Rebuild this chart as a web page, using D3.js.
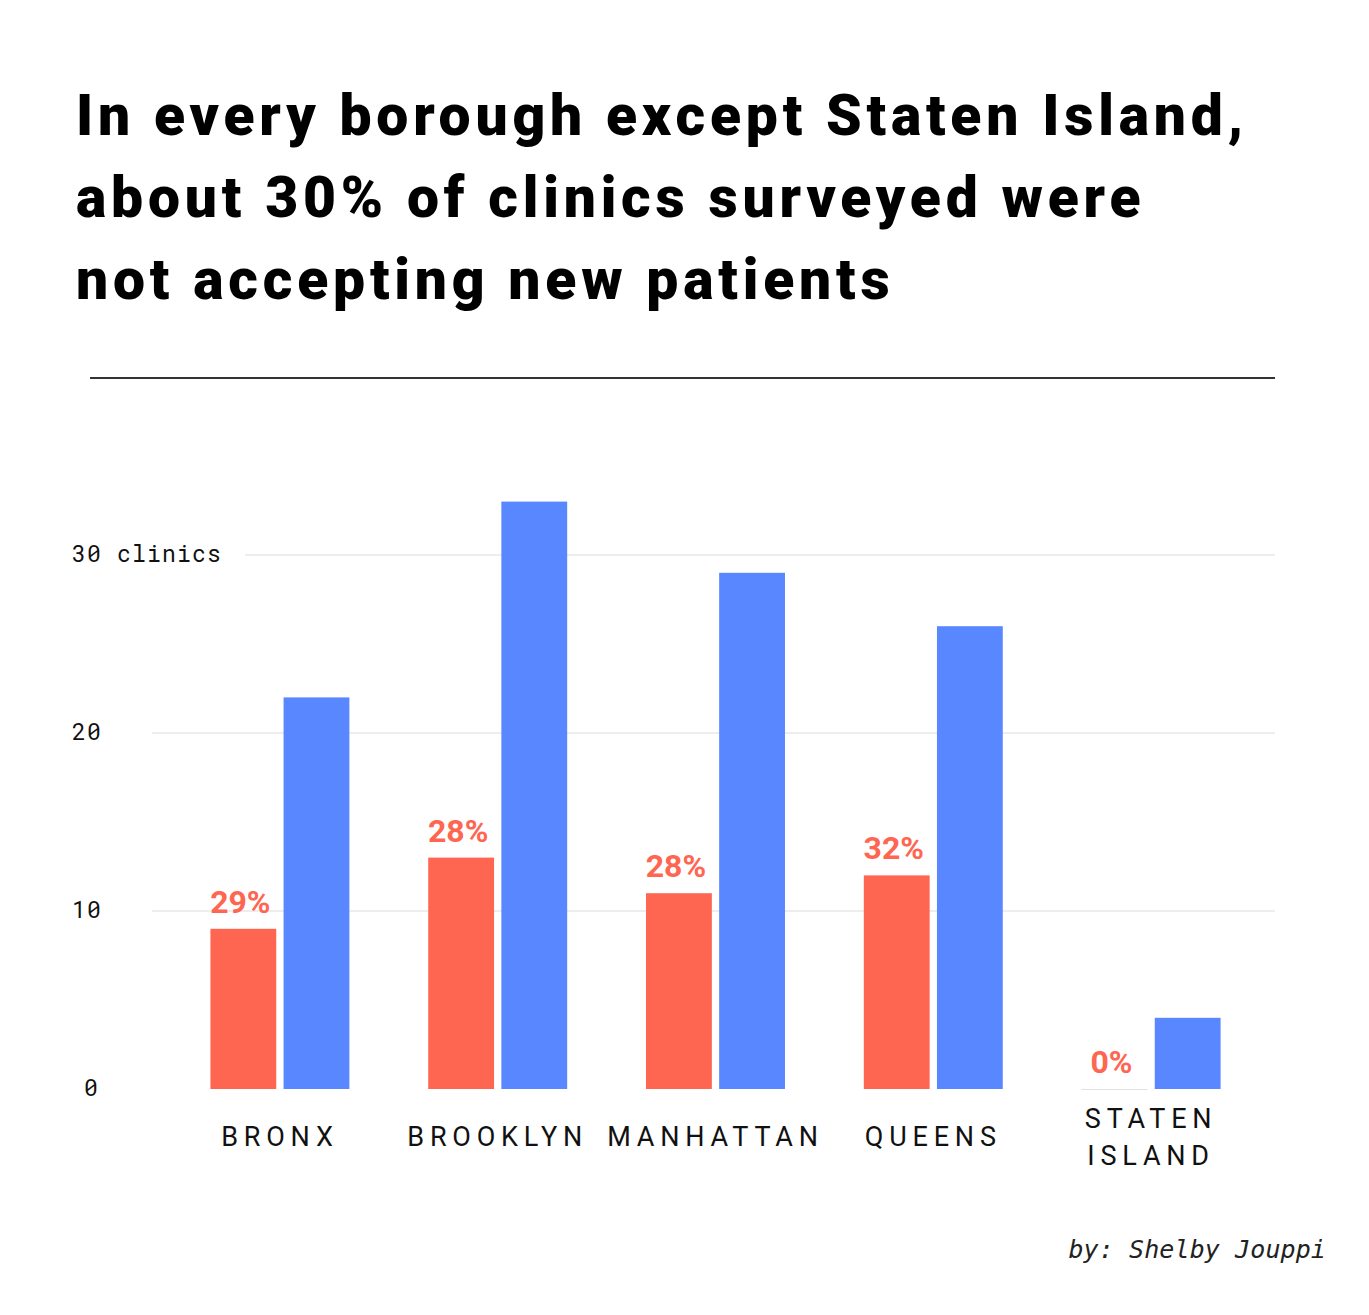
<!DOCTYPE html>
<html>
<head>
<meta charset="utf-8">
<script src="https://cdn.jsdelivr.net/npm/d3@7"></script>
<style>
  body { margin: 0; background: #fff; }
  .title { font-family: Roboto, sans-serif; font-weight: 900; font-size: 57px; letter-spacing: 4.8px; fill: #000; }
  .tick-label { font-family: "Roboto Mono", "DejaVu Sans Mono", monospace; font-size: 23px; fill: #111; letter-spacing: 1.2px; }
  .cat-label { font-family: Roboto, sans-serif; font-size: 27px; letter-spacing: 5.8px; fill: #111; }
  .pct-label { font-family: Roboto, sans-serif; font-weight: bold; font-size: 32px; fill: #ff6651; }
  .credit { font-family: "DejaVu Sans Mono", monospace; font-style: italic; font-size: 25px; letter-spacing: 0.1px; fill: #222; }
</style>
</head>
<body>
<div id="chart"></div>
<script>
// Data
var boroughs = ['BRONX', 'BROOKLYN', 'MANHATTAN', 'QUEENS', 'STATEN ISLAND'];
var notAccepting = [9, 13, 11, 12, 0];
var surveyed = [22, 33, 29, 26, 4];
var pctLabels = ['29%', '28%', '28%', '32%', '0%'];
var yTicks = [0, 10, 20, 30];
var titleLines = [
  'In every borough except Staten Island,',
  'about 30% of clinics surveyed were',
  'not accepting new patients'
];

const width = 1369, height = 1315;
const red = '#ff6651', blue = '#5887ff';

var svg = d3.select('#chart')
  .append('svg')
  .attr('width', width)
  .attr('height', height);

// Title
svg.selectAll('.title')
  .data(titleLines)
  .enter()
  .append('text')
  .attr('class', 'title')
  .attr('x', 76)
  .attr('y', (d, i) => 135 + i * 82)
  .text(d => d);

// Rule under title
svg.append('line')
  .attr('x1', 90).attr('x2', 1275)
  .attr('y1', 378).attr('y2', 378)
  .attr('stroke', '#333')
  .attr('stroke-width', 2);

// Scales
var yScale = d3.scaleLinear()
  .domain([0, 30])
  .range([1089, 555]);

var xScale = d3.scaleBand()
  .domain(boroughs)
  .range([171, 1260])
  .paddingInner(0.362)
  .paddingOuter(0.181);

var xSeries = d3.scaleBand()
  .domain(['not', 'all'])
  .range([0, xScale.bandwidth()])
  .paddingInner(0.1);

// Gridlines
svg.selectAll('.grid')
  .data(yTicks.filter(d => d > 0))
  .enter()
  .append('line')
  .attr('class', 'grid')
  .attr('x1', d => d === 30 ? 245 : 152)
  .attr('x2', 1275)
  .attr('y1', d => yScale(d))
  .attr('y2', d => yScale(d))
  .attr('stroke', '#dcdcdc')
  .attr('stroke-width', 1);

// Tick labels
svg.selectAll('.tick-label')
  .data(yTicks)
  .enter()
  .append('text')
  .attr('class', 'tick-label')
  .attr('x', d => d === 0 ? 84 : 72)
  .attr('y', d => yScale(d) + 7)
  .text(d => d === 30 ? '30 clinics' : d);

// Bars
var groups = svg.selectAll('.group')
  .data(boroughs)
  .enter()
  .append('g')
  .attr('class', 'group')
  .attr('transform', d => `translate(${xScale(d)},0)`);

groups.append('rect')
  .attr('x', xSeries('not'))
  .attr('width', xSeries.bandwidth())
  .attr('y', (d, i) => yScale(notAccepting[i]))
  .attr('height', (d, i) => yScale(0) - yScale(notAccepting[i]))
  .attr('fill', red);

// zero-height bar shows as a faint line
groups.filter((d, i) => notAccepting[i] === 0)
  .append('line')
  .attr('x1', xSeries('not'))
  .attr('x2', xSeries('not') + xSeries.bandwidth())
  .attr('y1', yScale(0) + 0.5)
  .attr('y2', yScale(0) + 0.5)
  .attr('stroke', '#e0e0e0');

groups.append('rect')
  .attr('x', xSeries('all'))
  .attr('width', xSeries.bandwidth())
  .attr('y', (d, i) => yScale(surveyed[i]))
  .attr('height', (d, i) => yScale(0) - yScale(surveyed[i]))
  .attr('fill', blue);

// Percentage labels
groups.append('text')
  .attr('class', 'pct-label')
  .attr('text-anchor', 'middle')
  .attr('x', xSeries('not') + xSeries.bandwidth() / 2 - 3)
  .attr('y', (d, i) => yScale(notAccepting[i]) - 16)
  .text((d, i) => pctLabels[i]);

// Category labels
groups.each(function (d) {
  var words = d === 'STATEN ISLAND' ? ['STATEN', 'ISLAND'] : [d];
  var startY = words.length > 1 ? 1128 : 1146;
  d3.select(this).selectAll('.cat-label')
    .data(words)
    .enter()
    .append('text')
    .attr('class', 'cat-label')
    .attr('text-anchor', 'middle')
    .attr('x', xScale.bandwidth() / 2)
    .attr('y', (w, i) => startY + i * 37)
    .text(w => w);
});

// Credit
svg.append('text')
  .attr('class', 'credit')
  .attr('text-anchor', 'end')
  .attr('x', 1326)
  .attr('y', 1258)
  .text('by: Shelby Jouppi');
</script>
</body>
</html>
